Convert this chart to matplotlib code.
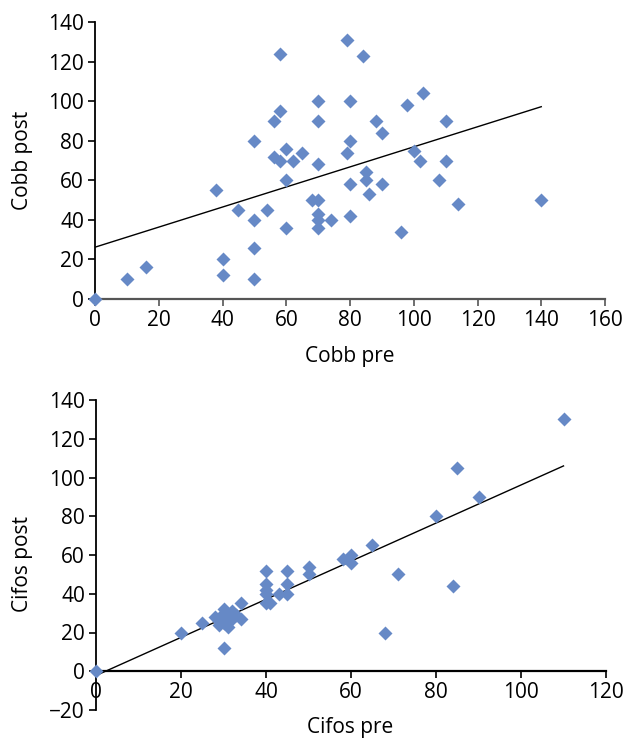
import matplotlib
matplotlib.use("Agg")
import matplotlib.pyplot as plt
import numpy as np

plt.rcParams['font.family'] = ['Open Sans', 'DejaVu Sans']

# dati
cobb_pre = [0, 10, 16, 38, 40, 40, 45, 50, 50, 50, 50, 54, 56, 56, 58, 58, 58, 60, 60, 60,
            62, 65, 68, 70, 70, 70, 70, 70, 70, 70, 74, 79, 79, 80, 80, 80, 80, 84, 85, 85,
            86, 88, 90, 90, 96, 98, 100, 102, 103, 108, 110, 110, 114, 140]
cobb_post = [0, 10, 16, 55, 20, 12, 45, 80, 40, 26, 10, 45, 90, 72, 124, 95, 70, 76, 60, 36,
             70, 74, 50, 100, 90, 68, 50, 43, 40, 36, 40, 74, 131, 100, 80, 58, 42, 123, 60, 64,
             53, 90, 84, 58, 34, 98, 75, 70, 104, 60, 90, 70, 48, 50]

cifos_pre = [0, 20, 25, 28, 29, 29, 30, 30, 30, 30, 30, 31, 31, 32, 32, 33, 34, 34,
             40, 40, 40, 40, 40, 41, 43, 45, 45, 45, 50, 50, 58, 60, 60, 65, 68, 71, 80, 84,
             85, 90, 110]
cifos_post = [0, 20, 25, 28, 26, 24, 32, 30, 27, 25, 12, 23, 28, 31, 27, 29, 35, 27,
              52, 45, 42, 40, 35, 35, 40, 52, 45, 40, 54, 50, 58, 60, 56, 65, 20, 50, 80, 44,
              105, 90, 130]

blu = '#6689C6'
W, H = 624, 739
fig = plt.figure(figsize=(W / 100, H / 100), dpi=100)


def pannello(rect, x, y, xlim, ylim, xticks, yticks, xlabel, ylabel, xlab_pos, ylab_pos, xspine_col):
    ax = fig.add_axes(rect)
    x = np.array(x, float)
    y = np.array(y, float)
    # retta di regressione
    m, q = np.polyfit(x, y, 1)
    xs = np.array([x.min(), x.max()])
    ax.plot(xs, m * xs + q, color='black', lw=1.0, zorder=2)
    ax.plot(x, y, 'D', color=blu, ms=7.5, mec='none', zorder=3, clip_on=False)
    ax.set_xlim(*xlim)
    ax.set_ylim(*ylim)
    ax.set_xticks(xticks)
    ax.set_yticks(yticks)
    for s in ['top', 'right']:
        ax.spines[s].set_visible(False)
    ax.spines['bottom'].set_position(('data', 0))
    ax.spines['bottom'].set_color(xspine_col)
    ax.spines['bottom'].set_linewidth(1.6)
    ax.spines['left'].set_linewidth(1.3)
    ax.tick_params(axis='x', direction='out', length=5, width=1.2, labelsize=15, pad=3,
                   color=xspine_col)
    ax.tick_params(axis='y', direction='out', length=5, width=1.2, labelsize=15, pad=3)
    ax.set_xlabel(xlabel, fontsize=15, va='center')
    ax.set_ylabel(ylabel, fontsize=15, va='center')
    ax.xaxis.set_label_coords(*xlab_pos)
    ax.yaxis.set_label_coords(*ylab_pos)
    return ax


pannello([95 / W, 1 - 299 / H, 510 / W, 277 / H], cobb_pre, cobb_post,
         (0, 160), (0, 140), range(0, 161, 20), range(0, 141, 20),
         'Cobb pre', 'Cobb post', (0.5, -0.206), (-0.143, 0.5), '#555555')

pannello([96 / W, 1 - 710 / H, 510 / W, 310 / H], cifos_pre, cifos_post,
         (0, 120), (-20, 140), range(0, 121, 20), range(-20, 141, 20),
         'Cifos pre', 'Cifos post', (0.498, -0.055), (-0.145, 0.47), 'black')

fig.savefig('out.png', dpi=100)
